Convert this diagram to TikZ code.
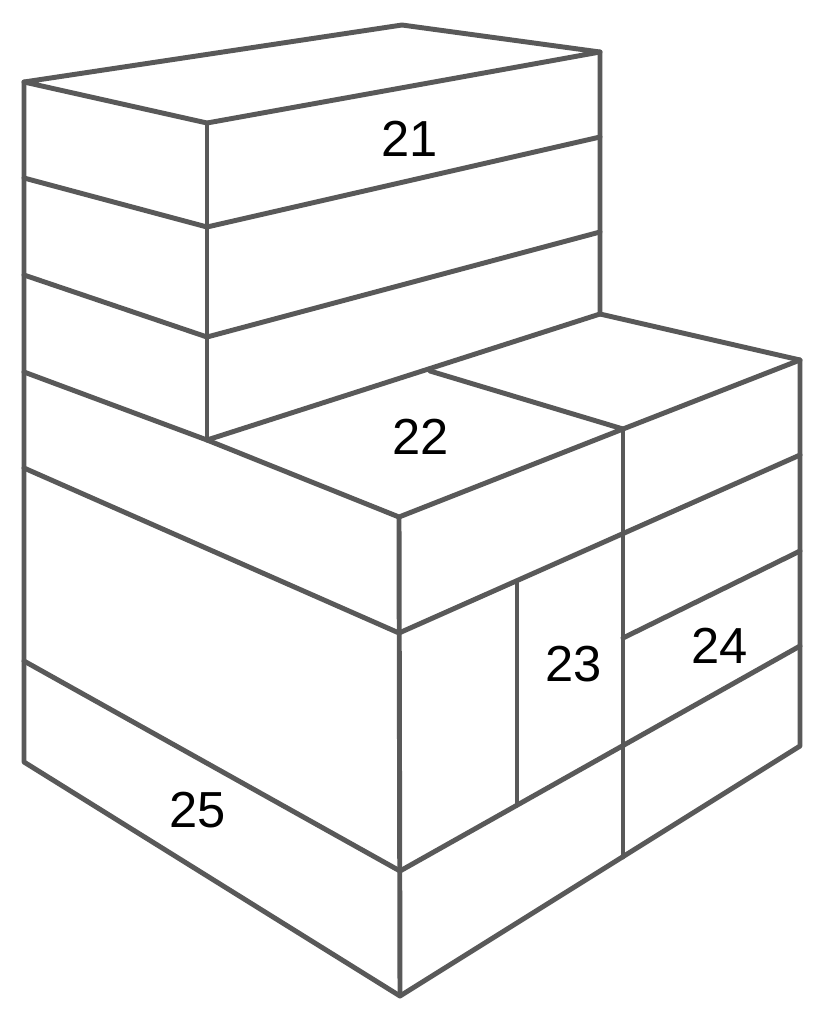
\documentclass[tikz,border=0pt]{standalone}
\usepackage{fontspec}
\setmainfont{Liberation Sans}
\tikzset{edge/.style={draw=black!65,line width=3.7pt,line join=round,line cap=round},
lab/.style={font=\fontsize{38}{38}\selectfont,text=black,inner sep=0pt}}
\begin{document}
\begin{tikzpicture}[x=0.75pt,y=-0.75pt]
\useasboundingbox[fill=white] (0,0) rectangle (839,1022);
\draw[edge] (24,82)--(402,25)--(600,52)--(207,123)--cycle;
\draw[edge] (24,82)--(24,762)--(400,996)--(800,746)--(800,360)--(600,314)--(600,52);
\draw[edge] (207,123)--(207,440);
\draw[edge] (24,178)--(207,227)--(600,137);
\draw[edge] (24,275)--(207,337)--(600,232);
\draw[edge] (24,372)--(207,440)--(399,517)--(623,429)--(430,371);
\draw[edge] (207,440)--(600,314);
\draw[edge] (623,429)--(800,360);
\draw[edge] (24,468)--(399,633)--(800,455);
\draw[edge] (399,517)--(400,996);
\draw[edge] (623,429)--(623,857);
\draw[edge] (24,661)--(400,871)--(800,646);
\draw[edge] (517,581)--(517,805);
\draw[edge] (623,638)--(800,551);
\node[lab] (n21) at (410,139) {21};
\node[lab] (n22) at (421,437) {22};
\node[lab] (n23) at (574,664) {23};
\node[lab] (n24) at (720,646) {24};
\node[lab] (n25) at (198,810) {25};
\end{tikzpicture}
\end{document}
